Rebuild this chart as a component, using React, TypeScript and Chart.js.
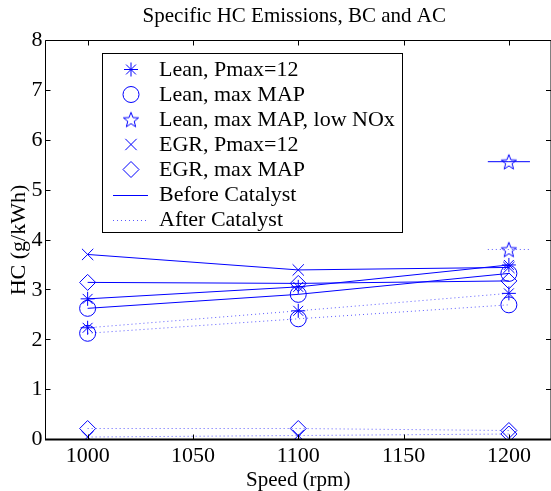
import React, { useEffect, useRef } from 'react';
import { Chart, registerables } from 'chart.js';
import { drawPoint } from 'chart.js/helpers';

Chart.register(...registerables);

// ---------- data ----------
const speeds = [1000, 1100, 1200];
const leanPmaxBefore = [2.82, 3.06, 3.5];
const leanPmaxAfter = [2.24, 2.58, 2.93];
const leanMaxMapBefore = [2.63, 2.91, 3.33];
const leanMaxMapAfter = [2.13, 2.42, 2.7];
const lowNoxSpeeds = [1190, 1200, 1210];
const lowNoxBefore = [5.57, 5.57, 5.57];
const lowNoxAfter = [3.81, 3.81, 3.81];
const egrPmaxBefore = [3.71, 3.4, 3.45];
const egrPmaxAfter = [0.05, 0.08, 0.11];
const egrMaxMapBefore = [3.15, 3.13, 3.18];
const egrMaxMapAfter = [0.22, 0.22, 0.18];

const xTicks = [1000, 1050, 1100, 1150, 1200];
const yTicks = [0, 1, 2, 3, 4, 5, 6, 7, 8];
const legendLabels = [
  'Lean, Pmax=12',
  'Lean, max MAP',
  'Lean, max MAP, low NOx',
  'EGR, Pmax=12',
  'EGR, max MAP',
  'Before Catalyst',
  'After Catalyst',
];
const titleText = 'Specific HC Emissions, BC and AC';
const xLabel = 'Speed (rpm)';
const yLabel = 'HC (g/kWh)';

const BLUE = '#0000ff';
const DOT_BLUE = '#5a5aff';
const FONT = '"Liberation Serif", "Times New Roman", serif';

function makePentagram(r: number): HTMLCanvasElement {
  const size = Math.ceil(r * 2 + 4);
  const c = document.createElement('canvas');
  c.width = size;
  c.height = size;
  const ctx = c.getContext('2d')!;
  ctx.strokeStyle = BLUE;
  ctx.lineWidth = 1;
  ctx.beginPath();
  const cx = size / 2;
  const cy = size / 2 + r * 0.1;
  for (let i = 0; i < 10; i++) {
    const ang = -Math.PI / 2 + (i * Math.PI) / 5;
    const rad = i % 2 === 0 ? r : r * 0.42;
    const x = cx + rad * Math.cos(ang);
    const y = cy + rad * Math.sin(ang);
    if (i === 0) ctx.moveTo(x, y);
    else ctx.lineTo(x, y);
  }
  ctx.closePath();
  ctx.stroke();
  return c;
}

const pts = (xs: number[], ys: number[]) => xs.map((x, i) => ({ x, y: ys[i] }));

export default function App() {
  const ref = useRef<HTMLCanvasElement | null>(null);

  useEffect(() => {
    const canvas = ref.current!;
    const pent = makePentagram(8);

    const solid = { borderColor: BLUE, borderWidth: 1, pointBorderColor: BLUE, pointBackgroundColor: 'rgba(0,0,0,0)', pointBorderWidth: 1, fill: false, tension: 0 };
    const dotted = { ...solid, borderColor: DOT_BLUE, borderDash: [1, 3] };

    const markerStyles: any[] = ['star', 'circle', pent, 'crossRot', 'rectRot'];
    const markerRadius = [7, 8, 8, 8, 8];

    const datasets: any[] = [
      { ...solid, data: pts(speeds, leanPmaxBefore), pointStyle: 'star', pointRadius: 7 },
      { ...dotted, data: pts(speeds, leanPmaxAfter), pointStyle: 'star', pointRadius: 7 },
      { ...solid, data: pts(speeds, leanMaxMapBefore), pointStyle: 'circle', pointRadius: 8 },
      { ...dotted, data: pts(speeds, leanMaxMapAfter), pointStyle: 'circle', pointRadius: 8 },
      { ...solid, data: pts(lowNoxSpeeds, lowNoxBefore), pointStyle: pent, pointRadius: [0, 8, 0] },
      { ...dotted, data: pts(lowNoxSpeeds, lowNoxAfter), pointStyle: pent, pointRadius: [0, 8, 0] },
      { ...solid, data: pts(speeds, egrPmaxBefore), pointStyle: 'crossRot', pointRadius: 8 },
      { ...dotted, data: pts(speeds, egrPmaxAfter), pointStyle: ['crossRot', 'crossRot', 'rectRot'], pointRadius: 8 },
      { ...solid, data: pts(speeds, egrMaxMapBefore), pointStyle: 'rectRot', pointRadius: 8 },
      { ...dotted, data: pts(speeds, egrMaxMapAfter), pointStyle: 'rectRot', pointRadius: 8 },
    ];

    const framePlugin = {
      id: 'frame',
      afterDatasetsDraw(chart: any) {
        const { ctx, chartArea: a, scales } = chart;
        const xs = scales.x;
        const ys = scales.y;
        ctx.save();
        ctx.strokeStyle = '#000';
        ctx.lineWidth = 1;
        ctx.beginPath();
        ctx.moveTo(a.left, a.top);
        ctx.lineTo(a.right, a.top);
        ctx.moveTo(a.left, a.top);
        ctx.lineTo(a.left, a.bottom);
        ctx.moveTo(a.right, a.top);
        ctx.lineTo(a.right, a.bottom);
        const tl = 5;
        xTicks.forEach((v) => {
          const px = Math.round(xs.getPixelForValue(v)) + 0.5;
          ctx.moveTo(px, a.bottom);
          ctx.lineTo(px, a.bottom - tl);
          ctx.moveTo(px, a.top);
          ctx.lineTo(px, a.top + tl);
        });
        yTicks.forEach((v) => {
          const py = Math.round(ys.getPixelForValue(v) - 0.5) + 0.5;
          ctx.moveTo(a.left, py);
          ctx.lineTo(a.left + tl, py);
          ctx.moveTo(a.right, py);
          ctx.lineTo(a.right - tl, py);
        });
        ctx.stroke();
        ctx.lineWidth = 2;
        ctx.beginPath();
        ctx.moveTo(a.left - 0.5, a.bottom);
        ctx.lineTo(a.right, a.bottom);
        ctx.stroke();

        // title
        ctx.fillStyle = '#000';
        ctx.font = `21px ${FONT}`;
        ctx.textAlign = 'center';
        ctx.textBaseline = 'alphabetic';
        ctx.fillText(titleText, (a.left + a.right) / 2 - 4, 22);

        // legend
        ctx.font = `22px ${FONT}`;
        ctx.textAlign = 'left';
        ctx.textBaseline = 'middle';
        const textX = 159;
        const maxW = Math.max(...legendLabels.map((l) => ctx.measureText(l).width));
        const boxL = 102.5;
        const boxT = 53.5;
        const boxR = Math.round(textX + maxW + 7) + 0.5;
        const boxB = 232.5;
        ctx.fillStyle = '#fff';
        ctx.fillRect(boxL, boxT, boxR - boxL, boxB - boxT);
        ctx.strokeStyle = '#000';
        ctx.lineWidth = 1;
        ctx.strokeRect(boxL, boxT, boxR - boxL, boxB - boxT);
        const rowY0 = 69.5;
        const rowH = 25;
        legendLabels.forEach((label, i) => {
          const y = rowY0 + i * rowH;
          ctx.lineWidth = 1;
          ctx.fillStyle = 'rgba(0,0,0,0)';
          if (i < 5) {
            ctx.strokeStyle = BLUE;
            drawPoint(ctx, { pointStyle: markerStyles[i], radius: markerRadius[i], rotation: 0, borderWidth: 1 } as any, 131, y);
          } else {
            ctx.strokeStyle = i === 6 ? DOT_BLUE : BLUE;
            ctx.beginPath();
            ctx.setLineDash(i === 6 ? [1, 3] : []);
            ctx.moveTo(113, Math.round(y) + 0.5);
            ctx.lineTo(148, Math.round(y) + 0.5);
            ctx.stroke();
            ctx.setLineDash([]);
          }
          ctx.fillStyle = '#000';
          ctx.fillText(label, textX, y + 1);
        });
        ctx.restore();
      },
    };

    const chart = new Chart(canvas, {
      type: 'line',
      data: { datasets },
      options: {
        animation: false,
        responsive: false,
        maintainAspectRatio: false,
        devicePixelRatio: 1,
        layout: { padding: { top: 40.5, right: 7.5, left: 0, bottom: 0 } },
        plugins: { legend: { display: false }, title: { display: false }, tooltip: { enabled: false } },
        scales: {
          x: {
            type: 'linear',
            min: 980,
            max: 1220,
            afterBuildTicks: (s: any) => {
              s.ticks = xTicks.map((v) => ({ value: v }));
            },
            afterFit: (s: any) => {
              s.height = 51.5;
            },
            grid: { display: false, drawTicks: false },
            border: { display: false },
            ticks: { color: '#000', font: { family: FONT, size: 22 }, padding: 4, maxRotation: 0, autoSkip: false, callback: (v: any) => String(v) },
            title: { display: true, text: xLabel, color: '#000', font: { family: FONT, size: 21, lineHeight: 1 }, padding: 0 },
          },
          y: {
            type: 'linear',
            min: 0,
            max: 8,
            afterBuildTicks: (s: any) => {
              s.ticks = yTicks.map((v) => ({ value: v }));
            },
            afterFit: (s: any) => {
              s.width = 45.5;
            },
            grid: { display: false, drawTicks: false },
            border: { display: false },
            ticks: { color: '#000', font: { family: FONT, size: 22 }, padding: 3, callback: (v: any) => String(v) },
            title: { display: true, text: yLabel, color: '#000', font: { family: FONT, size: 22, lineHeight: 1.2 }, padding: { top: 6, bottom: 0 } },
          },
        },
      },
      plugins: [framePlugin],
    } as any);

    return () => chart.destroy();
  }, []);

  return (
    <div style={{ position: 'fixed', left: 0, top: 0, width: 560, height: 491, background: '#fff' }}>
      <canvas ref={ref} width={560} height={491} style={{ width: 560, height: 491, display: 'block' }} />
    </div>
  );
}
